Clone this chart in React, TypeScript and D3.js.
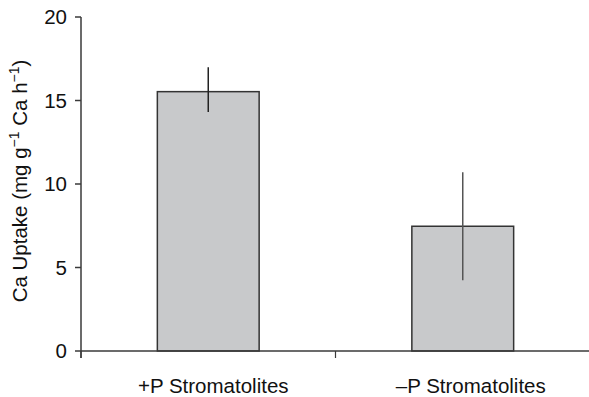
import React from "react";
import * as d3 from "d3";

const categories = ["+P Stromatolites", "\u2013P Stromatolites"];
const values = [15.53, 7.47];
const errLow = [14.31, 4.23];
const errHigh = [16.99, 10.7];
const yTicks = [0, 5, 10, 15, 20];

const W = 589;
const H = 397;

export default function App() {
  const y = d3.scaleLinear().domain([0, 20]).range([351, 17]);
  const x = d3.scaleBand<string>().domain(categories).range([81, 590]).padding(0);
  const bw = x.bandwidth() * 0.4;
  const font = "'Liberation Sans', Arial, Helvetica, sans-serif";
  const axisColor = "#3a3a3a";
  const errColors = ["#222", "#555"];
  const labelOffsets = [5, 8];
  const boundaries = [81, ...categories.map((c) => (x(c) as number) + x.bandwidth())];
  const fs = 20.5;

  return (
    <svg
      width={W}
      height={H}
      style={{ position: "absolute", left: 0, top: 0, background: "#fff" }}
      fontFamily={font}
    >
      {categories.map((c, i) => {
        const cx = (x(c) as number) + x.bandwidth() / 2;
        return (
          <g key={c}>
            <rect
              x={cx - bw / 2}
              y={y(values[i])}
              width={bw}
              height={y(0) - y(values[i])}
              fill="#c8c9cb"
              stroke="#333"
              strokeWidth={1.5}
            />
            <line
              x1={cx}
              x2={cx}
              y1={y(errLow[i])}
              y2={y(errHigh[i])}
              stroke={errColors[i]}
              strokeWidth={1.5}
            />
            <text
              x={cx + labelOffsets[i]}
              y={393}
              textAnchor="middle"
              fontSize={fs}
              fill="#111"
            >
              {c}
            </text>
          </g>
        );
      })}
      {/* y axis */}
      <line x1={81} x2={81} y1={y(20)} y2={y(0) + 7} stroke={axisColor} strokeWidth={1.5} />
      {yTicks.map((t) => (
        <g key={t}>
          <line x1={75} x2={81} y1={y(t)} y2={y(t)} stroke={axisColor} strokeWidth={1.5} />
          <text x={67} y={y(t)} dy="0.35em" textAnchor="end" fontSize={fs} fill="#111">
            {t}
          </text>
        </g>
      ))}
      {/* x axis */}
      <line x1={81} x2={590} y1={y(0)} y2={y(0)} stroke={axisColor} strokeWidth={1.5} />
      {boundaries.map((b, i) => (
        <line key={i} x1={b} x2={b} y1={y(0)} y2={y(0) + 7} stroke={axisColor} strokeWidth={1.2} />
      ))}
      <text
        transform={`translate(27,181) rotate(-90)`}
        textAnchor="middle"
        fontSize={fs}
        fill="#111"
      >
        Ca Uptake (mg g
        <tspan fontSize={14} dy={-8}>{"\u22121"}</tspan>
        <tspan dy={8}> Ca h</tspan>
        <tspan fontSize={14} dy={-8}>{"\u22121"}</tspan>
        <tspan dy={8}>)</tspan>
      </text>
    </svg>
  );
}
